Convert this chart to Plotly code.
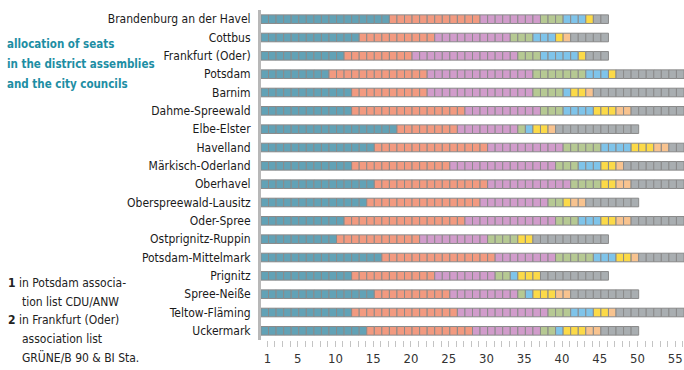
import plotly.graph_objects as go

# Districts and independent cities, top to bottom
districts = [
    "Brandenburg an der Havel", "Cottbus", "Frankfurt (Oder)", "Potsdam",
    "Barnim", "Dahme-Spreewald", "Elbe-Elster", "Havelland",
    "Märkisch-Oderland", "Oberhavel", "Oberspreewald-Lausitz", "Oder-Spree",
    "Ostprignitz-Ruppin", "Potsdam-Mittelmark", "Prignitz", "Spree-Neiße",
    "Teltow-Fläming", "Uckermark",
]

# Seats per list, in stacking order
seats_teal   = [17, 13, 11,  9, 12, 12, 18, 15, 12, 15, 14, 11, 10, 16, 12, 15, 12, 14]
seats_salmon = [12, 10,  9, 13, 10, 15,  8, 15, 13, 15, 15, 16, 11, 15, 11, 10, 14, 14]
seats_purple = [ 8, 10, 14, 14, 14, 10,  8, 10, 14, 11,  9, 12,  9,  8,  8,  9, 12,  9]
seats_green  = [ 3,  3,  3,  7,  4,  3,  1,  5,  3,  4,  2,  3,  4,  5,  2,  1,  3,  2]
seats_blue   = [ 3,  3,  5,  3,  1,  4,  1,  4,  3,  0,  0,  3,  0,  3,  1,  1,  3,  1]
seats_yellow = [ 1,  1,  1,  1,  2,  3,  2,  3,  2,  2,  1,  2,  2,  2,  3,  3,  2,  3]
seats_orange = [ 0,  1,  0,  0,  1,  2,  1,  2,  1,  2,  2,  2,  0,  1,  0,  2,  1,  2]
seats_gray   = [ 2,  5,  3,  9, 12,  7, 11,  2,  8,  7,  7,  7, 10,  6,  9,  9,  9,  5]

tick_numbers = [1, 5, 10, 15, 20, 25, 30, 35, 40, 45, 50, 55]
max_seats = 56

title_lines = ["allocation of seats", "in the district assemblies", "and the city councils"]
note_lines = [
    ("<b>1</b> in Potsdam associa-", 0),
    ("tion list CDU/ANW", 1),
    ("<b>2</b> in Frankfurt (Oder)", 0),
    ("association list", 1),
    ("GRÜNE/B 90 & BI Sta.", 1),
]

series = [
    (seats_teal,   "#62a2b6"),
    (seats_salmon, "#f29a80"),
    (seats_purple, "#d19ccb"),
    (seats_green,  "#b6c993"),
    (seats_blue,   "#7fc4ea"),
    (seats_yellow, "#fcda48"),
    (seats_orange, "#f8c38f"),
    (seats_gray,   "#a9aeb1"),
]

FONT = "DejaVu Sans Condensed, Liberation Sans Narrow, sans-serif"

# Plot area in pixels (used to place the side texts)
L, T, W, H = 261, 10, 423, 330


def px_to_paper(px, py):
    return (px - L) / W, (T + H - py) / H


fig = go.Figure()

# One unit bar per seat so every seat is drawn as its own cell
offset = [0] * len(districts)
for values, color in series:
    ys, bases = [], []
    for i, n in enumerate(values):
        for k in range(n):
            ys.append(districts[i])
            bases.append(offset[i] + k)
        offset[i] += n
    fig.add_trace(go.Bar(
        y=ys, x=[1] * len(ys), base=bases, orientation="h",
        width=0.47,
        marker=dict(color=color, line=dict(color="#8a8a8a", width=1)),
        showlegend=False, hoverinfo="skip",
    ))

# Seat-number ticks below the bars
tickvals = [n - 0.15 for n in range(1, max_seats + 1)]
ticktext = [str(n) if n in tick_numbers else "" for n in range(1, max_seats + 1)]

fig.update_layout(
    width=684, height=370,
    margin=dict(l=L, r=684 - L - W, t=T, b=370 - T - H),
    barmode="overlay",
    plot_bgcolor="white", paper_bgcolor="white",
    font=dict(family=FONT, color="#222222"),
    xaxis=dict(
        range=[0, max_seats], showgrid=False, zeroline=False, showline=False,
        tickvals=tickvals, ticktext=ticktext,
        ticks="outside", ticklen=6, tickwidth=1, tickcolor="#c4c4c4",
        tickfont=dict(size=13, color="#333333"),
    ),
    yaxis=dict(
        categoryorder="array", categoryarray=districts, autorange="reversed",
        showgrid=False, zeroline=False,
        showline=True, linecolor="#b8b8b8", linewidth=3,
        ticks="outside", ticklen=5, tickcolor="rgba(0,0,0,0)",
        tickfont=dict(size=12, color="#1a1a1a"),
    ),
)

# Heading on the left
for j, line in enumerate(title_lines):
    x, y = px_to_paper(5, 44 + j * 20)
    fig.add_annotation(
        text="<b>" + line + "</b>", xref="paper", yref="paper", x=x, y=y,
        xanchor="left", yanchor="middle", showarrow=False,
        font=dict(family=FONT, size=11.5, color="#1d8ea4"),
    )

# Footnotes
for j, (line, indent) in enumerate(note_lines):
    x, y = px_to_paper(6 + 14 * indent, 283 + j * 18.5)
    fig.add_annotation(
        text=line, xref="paper", yref="paper", x=x, y=y,
        xanchor="left", yanchor="middle", showarrow=False,
        font=dict(family=FONT, size=12, color="#222222"),
    )

fig.write_html("out.html")
